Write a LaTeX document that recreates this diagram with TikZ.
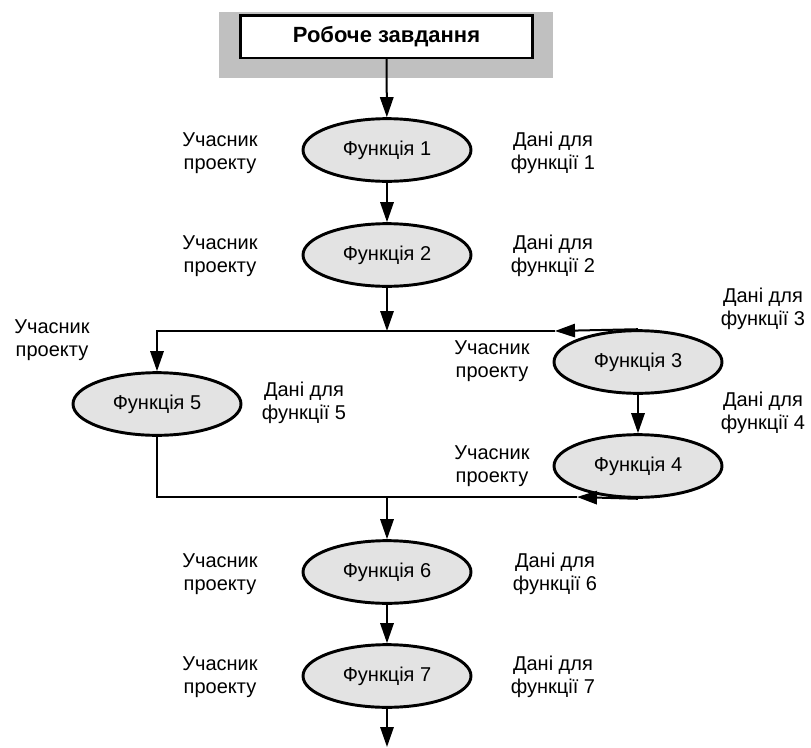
\documentclass[tikz,border=0pt]{standalone}
\usepackage{fontspec}
\setmainfont{Liberation Sans}
\usetikzlibrary{arrows.meta,shapes.geometric}
\definecolor{bandgray}{HTML}{C0C0C0}
\definecolor{funcgray}{HTML}{E3E3E3}
\tikzset{
  func/.style={ellipse,draw,line width=2.2pt,fill=funcgray,minimum width=126pt,minimum height=47pt,inner sep=0pt},
  note/.style={align=center},
  link/.style={line width=1.5pt},
  flow/.style={link,-{Triangle[length=15pt,width=10pt]}}
}

\begin{document}
\begin{tikzpicture}[x=0.75pt,y=-0.75pt,font=\fontsize{15}{17.25}\selectfont]
  \useasboundingbox (0,0) rectangle (811,747);
  \fill[bandgray] (219,12) rectangle (553,78);
  \node[draw,line width=2pt,fill=white,minimum width=219pt,minimum height=32pt,font=\fontsize{16.5}{19}\selectfont\bfseries] (task) at (386.5,36.5) {Робоче завдання};

  \node[func] (f1) at (387,150) {Функція 1};
  \node[func] (f2) at (387,255) {Функція 2};
  \node[func] (f3) at (638,362) {Функція 3};
  \node[func] (f4) at (638,466) {Функція 4};
  \node[func] (f5) at (157,404) {Функція 5};
  \node[func] (f6) at (387,572) {Функція 6};
  \node[func] (f7) at (387,676) {Функція 7};

  \node[note] (p1) at (220,153) {Учасник\\проекту};
  \node[note] (d1) at (553,153) {Дані для\\функції 1};
  \node[note] (p2) at (220,256) {Учасник\\проекту};
  \node[note] (d2) at (553,256) {Дані для\\функції 2};
  \node[note] (p3) at (492,361) {Учасник\\проекту};
  \node[note] (d3) at (763,309) {Дані для\\функції 3};
  \node[note] (p4) at (492,466) {Учасник\\проекту};
  \node[note] (d4) at (763,413) {Дані для\\функції 4};
  \node[note] (p5) at (52,340) {Учасник\\проекту};
  \node[note] (d5) at (304,403) {Дані для\\функції 5};
  \node[note] (p6) at (220,574) {Учасник\\проекту};
  \node[note] (d6) at (555,574) {Дані для\\функції 6};
  \node[note] (p7) at (220,677) {Учасник\\проекту};
  \node[note] (d7) at (553,677) {Дані для\\функції 7};

  \coordinate (j3) at (555,331);
  \coordinate (j4) at (577,497);
  \coordinate (out) at (387,747);

  \draw[flow] (task) -- (f1);
  \draw[flow] (f1) -- (f2);
  \draw[flow] (f2) -- (f2 |- j3);
  \draw[flow] (f3.north) -- (j3);
  \draw[flow] (j3) -| (f5);
  \draw[flow] (f3) -- (f4);
  \draw[flow] (f4.south) -- (j4);
  \draw[link] (j4) -| (f5);
  \draw[flow] (f6 |- j4) -- (f6);
  \draw[flow] (f6) -- (f7);
  \draw[flow] (f7) -- (out);
\end{tikzpicture}
\end{document}
